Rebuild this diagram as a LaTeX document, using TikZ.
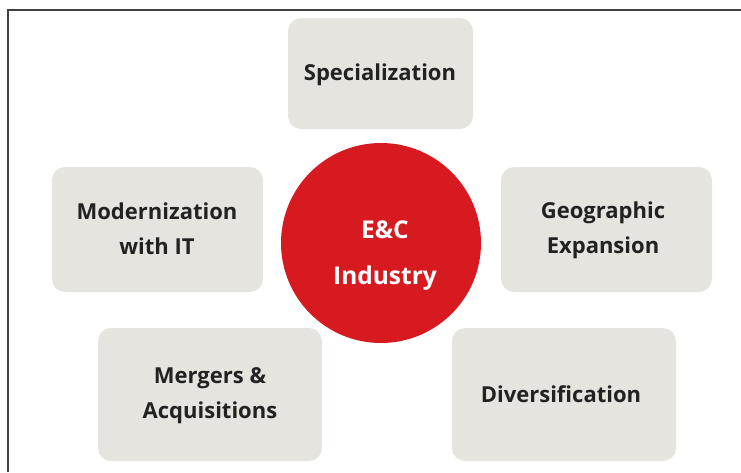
\documentclass[tikz,border=0pt]{standalone}
\usepackage{fontspec}
\setmainfont{Open Sans}
\definecolor{boxgray}{HTML}{E5E4DE}
\definecolor{ecred}{HTML}{D71920}
\definecolor{txt}{HTML}{222222}
\begin{document}
\begin{tikzpicture}[x=1pt,y=-1pt,
  box/.style={fill=boxgray, rounded corners=13pt, draw=none},
  lbl/.style={font=\fontsize{22}{35}\selectfont\bfseries, text=txt, align=center},
  clbl/.style={font=\fontsize{24.5}{46}\selectfont\bfseries, text=white, align=center}]
\useasboundingbox (0,0) rectangle (741,472);
% frame
\draw[line width=1.2pt, draw=black!75] (8,472) -- (8,10) -- (741,10);
% boxes
\fill[box] (288,18) rectangle (473,129);
\fill[box] (52,167) rectangle (263,292);
\fill[box] (501,167) rectangle (712,292);
\fill[box] (98,328) rectangle (322,461);
\fill[box] (452,328) rectangle (676,461);
% centre circle
\node[circle, fill=ecred, minimum size=200pt, inner sep=0pt] (ec) at (381,243) {};
\node[clbl] (ect) at (385,256) {E\&C\\Industry};
% labels
\node[lbl] (spec) at (380,75) {Specialization};
\node[lbl] (mod) at (157,229) {Modernization\\with IT};
\node[lbl] (geo) at (603,230) {Geographic\\Expansion};
\node[lbl] (mer) at (210,396) {Mergers \&\\Acquisitions};
\node[lbl] (div) at (561,394) {Diversification};
\end{tikzpicture}
\end{document}
